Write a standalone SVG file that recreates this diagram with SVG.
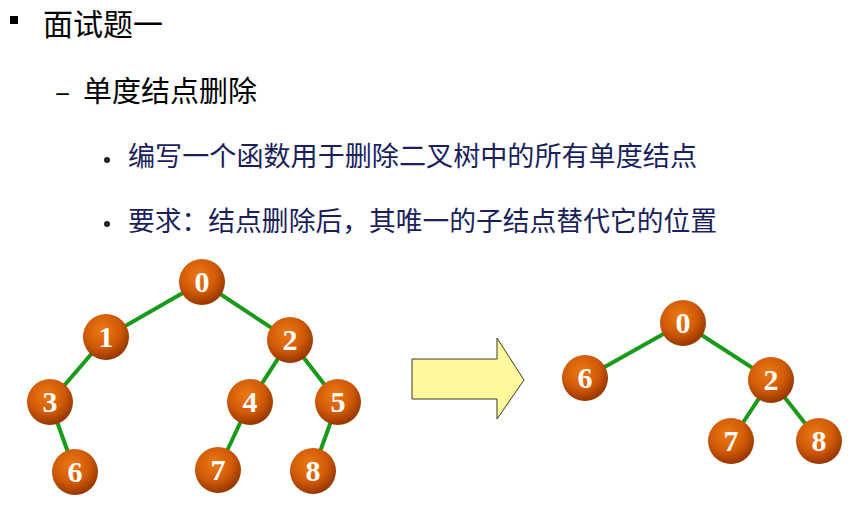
<svg xmlns="http://www.w3.org/2000/svg" width="864" height="506" viewBox="0 0 864 506">
<style>
.t{font-family:"Noto Sans CJK SC","Liberation Sans",sans-serif;fill:#000}
.b{font-family:"Noto Sans CJK SC","Liberation Sans",sans-serif;fill:#1a1f5c;font-size:27px}
.dot{fill:#222}
.edge{stroke:#1a9a1a;stroke-width:4;fill:none}
.nc{fill:url(#ball)}
.nl{font-family:"Liberation Serif",serif;font-weight:bold;font-size:30px;fill:#fff;text-anchor:middle}
</style>
<defs>
<radialGradient id="ball" cx="0.42" cy="0.35" r="0.65">
<stop offset="0" stop-color="#ec7a12"/>
<stop offset="0.6" stop-color="#d05a08"/>
<stop offset="1" stop-color="#973600"/>
</radialGradient>
</defs>
<g id="texts">
<rect x="10" y="16" width="8" height="8" fill="#000"/>
<text class="t" x="43" y="35" font-size="30">面试题一</text>
<text class="t" x="55" y="102" font-size="28">–</text>
<text class="t" x="83" y="102" font-size="29">单度结点删除</text>
<circle class="dot" cx="107" cy="160" r="3"/>
<text class="b" x="128" y="166" textLength="569" lengthAdjust="spacingAndGlyphs">编写一个函数用于删除二叉树中的所有单度结点</text>
<circle class="dot" cx="107" cy="224" r="3"/>
<text class="b" x="128" y="231" textLength="589" lengthAdjust="spacingAndGlyphs">要求：结点删除后，其唯一的子结点替代它的位置</text>
</g>
<g id="connectors">
<line class="edge" x1="202" y1="282" x2="106" y2="337"/>
<line class="edge" x1="202" y1="282" x2="290" y2="340"/>
<line class="edge" x1="106" y1="337" x2="50" y2="402"/>
<line class="edge" x1="50" y1="402" x2="75" y2="472"/>
<line class="edge" x1="290" y1="340" x2="250" y2="402"/>
<line class="edge" x1="290" y1="340" x2="338" y2="402"/>
<line class="edge" x1="250" y1="402" x2="218" y2="470"/>
<line class="edge" x1="338" y1="402" x2="313" y2="471"/>
<line class="edge" x1="683" y1="323" x2="585" y2="378"/>
<line class="edge" x1="683" y1="323" x2="771" y2="380"/>
<line class="edge" x1="771" y1="380" x2="731" y2="441"/>
<line class="edge" x1="771" y1="380" x2="819" y2="441"/>
</g>
<g id="arrow">
<polygon points="412,359 497,359 497,338 524,380 497,419 497,399 412,399" fill="#fdf99c" stroke="#3a3a20" stroke-width="1"/>
</g>
<g id="L0"><circle class="nc" cx="202" cy="282" r="23"/><text class="nl" x="202" y="292">0</text></g>
<g id="L1"><circle class="nc" cx="106" cy="337" r="23"/><text class="nl" x="106" y="347">1</text></g>
<g id="L2"><circle class="nc" cx="290" cy="340" r="23"/><text class="nl" x="290" y="350">2</text></g>
<g id="L3"><circle class="nc" cx="50" cy="402" r="23"/><text class="nl" x="50" y="412">3</text></g>
<g id="L4"><circle class="nc" cx="250" cy="402" r="23"/><text class="nl" x="250" y="412">4</text></g>
<g id="L5"><circle class="nc" cx="338" cy="402" r="23"/><text class="nl" x="338" y="412">5</text></g>
<g id="L6"><circle class="nc" cx="75" cy="472" r="23"/><text class="nl" x="75" y="482">6</text></g>
<g id="L7"><circle class="nc" cx="218" cy="470" r="23"/><text class="nl" x="218" y="480">7</text></g>
<g id="L8"><circle class="nc" cx="313" cy="471" r="23"/><text class="nl" x="313" y="481">8</text></g>
<g id="R0"><circle class="nc" cx="683" cy="323" r="23"/><text class="nl" x="683" y="333">0</text></g>
<g id="R6"><circle class="nc" cx="585" cy="378" r="23"/><text class="nl" x="585" y="388">6</text></g>
<g id="R2"><circle class="nc" cx="771" cy="380" r="23"/><text class="nl" x="771" y="390">2</text></g>
<g id="R7"><circle class="nc" cx="731" cy="441" r="23"/><text class="nl" x="731" y="451">7</text></g>
<g id="R8"><circle class="nc" cx="819" cy="441" r="23"/><text class="nl" x="819" y="451">8</text></g>
</svg>
